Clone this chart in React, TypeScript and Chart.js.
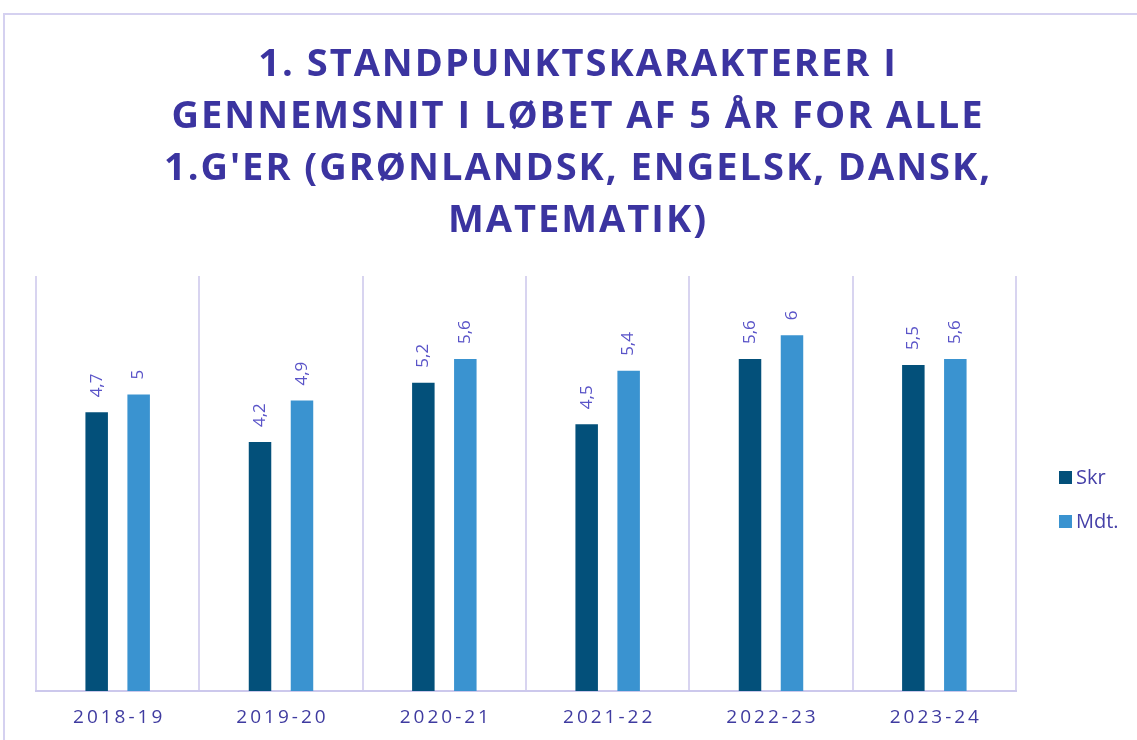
import React, { useEffect, useRef } from "react";
import { Chart, registerables } from "chart.js";

Chart.register(...registerables);

const categories = ["2018-19", "2019-20", "2020-21", "2021-22", "2022-23", "2023-24"];
const skrValues = [4.7, 4.2, 5.2, 4.5, 5.6, 5.5];
const mdtValues = [5, 4.9, 5.6, 5.4, 6, 5.6];
const seriesNames = ["Skr", "Mdt."];
const titleLines = [
  "1. STANDPUNKTSKARAKTERER I",
  "GENNEMSNIT I LØBET AF 5 ÅR FOR ALLE",
  "1.G'ER (GRØNLANDSK, ENGELSK, DANSK,",
  "MATEMATIK)",
];
const yMin = 0;
const yMax = 7;

const COLORS = {
  skr: "#03507A",
  mdt: "#3A93D0",
  title: "#3B34A0",
  tick: "#3F3BA0",
  label: "#5A54C8",
  legend: "#4540A8",
  grid: "#D8D4F0",
  axis: "#CCC8EC",
  frame: "#D5D1F0",
};

const FONT = "'Open Sans', 'DejaVu Sans', sans-serif";

function fmt(v: number) {
  return String(v).replace(".", ",");
}

function drawSpaced(ctx: any, text: string, cx: number, y: number, spacing: number) {
  ctx.letterSpacing = spacing + "px";
  const w = ctx.measureText(text).width;
  ctx.textAlign = "left";
  ctx.fillText(text, cx - (w - spacing) / 2, y);
  ctx.letterSpacing = "0px";
}

const decorPlugin = {
  id: "decor",
  beforeDraw(chart: any) {
    const ctx = chart.ctx;
    ctx.save();
    ctx.strokeStyle = COLORS.frame;
    ctx.lineWidth = 2;
    ctx.beginPath();
    ctx.moveTo(4, 740);
    ctx.lineTo(4, 14);
    ctx.lineTo(1137, 14);
    ctx.stroke();
    ctx.restore();
  },
  afterDatasetsDraw(chart: any) {
    const ctx = chart.ctx;
    ctx.save();
    ctx.fillStyle = COLORS.label;
    ctx.font = "17px " + FONT;
    chart.data.datasets.forEach((ds: any, di: number) => {
      const meta = chart.getDatasetMeta(di);
      meta.data.forEach((bar: any, i: number) => {
        ctx.save();
        ctx.translate(bar.x, bar.y - 15);
        ctx.rotate(-Math.PI / 2);
        ctx.textAlign = "left";
        ctx.textBaseline = "middle";
        ctx.fillText(fmt(ds.data[i]), 0, 0);
        ctx.restore();
      });
    });
    ctx.restore();
  },
  afterDraw(chart: any) {
    const ctx = chart.ctx;
    ctx.save();
    // title
    ctx.fillStyle = COLORS.title;
    ctx.font = "bold 38px " + FONT;
    ctx.textBaseline = "alphabetic";
    titleLines.forEach((line, i) => {
      drawSpaced(ctx, line, 577, 76 + i * 52, 2);
    });
    // x tick labels
    const xs = chart.scales.x;
    ctx.fillStyle = COLORS.tick;
    ctx.font = "19px " + FONT;
    ctx.textBaseline = "middle";
    categories.forEach((c, i) => {
      drawSpaced(ctx, c, xs.getPixelForValue(i), 718, 3);
    });
    // legend
    const legendY = [477, 521];
    chart.data.datasets.forEach((ds: any, i: number) => {
      ctx.fillStyle = ds.backgroundColor;
      ctx.fillRect(1059, legendY[i] - 6, 13, 13);
      ctx.fillStyle = COLORS.legend;
      ctx.font = "20px " + FONT;
      ctx.textAlign = "left";
      ctx.textBaseline = "middle";
      ctx.fillText(ds.label, 1076, legendY[i] + 1);
    });
    ctx.restore();
  },
};

export default function App() {
  const ref = useRef<HTMLCanvasElement | null>(null);
  useEffect(() => {
    if (!ref.current) return;
    const chart = new Chart(ref.current, {
      type: "bar",
      data: {
        labels: categories,
        datasets: [
          {
            label: seriesNames[0],
            data: skrValues,
            backgroundColor: COLORS.skr,
            barPercentage: 0.536,
            categoryPercentage: 0.514,
          },
          {
            label: seriesNames[1],
            data: mdtValues,
            backgroundColor: COLORS.mdt,
            barPercentage: 0.536,
            categoryPercentage: 0.514,
          },
        ],
      },
      options: {
        responsive: false,
        animation: false,
        devicePixelRatio: 1,
        layout: { padding: { left: 36, top: 276, right: 121, bottom: 49 } },
        plugins: {
          legend: { display: false },
          title: { display: false },
          tooltip: { enabled: false },
        },
        scales: {
          x: {
            grid: { color: COLORS.grid, lineWidth: 2, drawTicks: false, offset: true },
            border: { color: COLORS.axis, width: 2 },
            ticks: { display: false },
          },
          y: { display: false, min: yMin, max: yMax },
        },
      },
      plugins: [decorPlugin],
    });
    return () => chart.destroy();
  }, []);
  return (
    <div style={{ position: "absolute", left: 0, top: 0, width: 1137, height: 740, background: "#fff" }}>
      <canvas ref={ref} width={1137} height={740} />
    </div>
  );
}
